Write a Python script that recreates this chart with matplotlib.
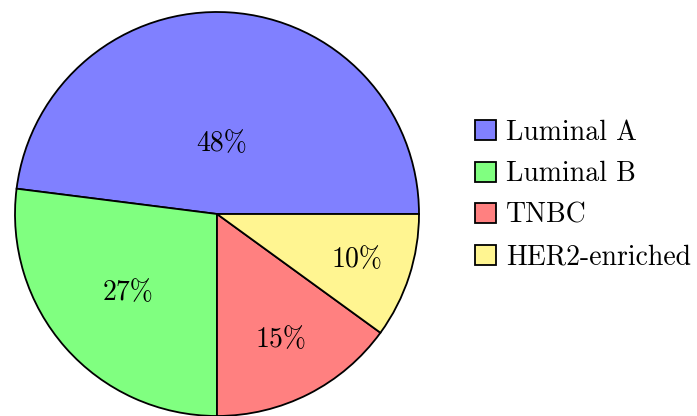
import numpy as np
import matplotlib
matplotlib.use("Agg")
import matplotlib.pyplot as plt

plt.rcParams["font.family"] = ["cmr10", "DejaVu Serif"]
plt.rcParams["axes.unicode_minus"] = False

subtypes = ["Luminal A", "Luminal B", "TNBC", "HER2-enriched"]
shares = [48, 27, 15, 10]
colors = ["#8080FF", "#80FF80", "#FF8080", "#FFF591"]
label_dist = [0.35, 0.59, 0.70, 0.73]

fig = plt.figure(figsize=(6.97, 4.16), dpi=100)
ax = fig.add_axes([15 / 697, 0, 404 / 697, 404 / 416])

wedges, texts, autotexts = ax.pie(
    shares, colors=colors, startangle=0, counterclock=True,
    autopct="%d%%", pctdistance=0.5,
    wedgeprops=dict(edgecolor="black", linewidth=1.3),
    textprops=dict(fontsize=20, color="black"),
)
for w, t, d in zip(wedges, autotexts, label_dist):
    mid = np.deg2rad((w.theta1 + w.theta2) / 2)
    t.set_position((d * np.cos(mid), d * np.sin(mid)))

ax.set_xlim(-1, 1)
ax.set_ylim(-1, 1)
ax.set_aspect("equal")
ax.axis("off")

leg = fig.legend(
    wedges, subtypes, loc="center left", bbox_to_anchor=(475 / 697, 1 - 195 / 416),
    frameon=False, fontsize=20, handlelength=0.75, handleheight=0.75,
    handletextpad=0.38, labelspacing=0.55, borderaxespad=0, borderpad=0,
)

fig.savefig("out.png", dpi=100)
